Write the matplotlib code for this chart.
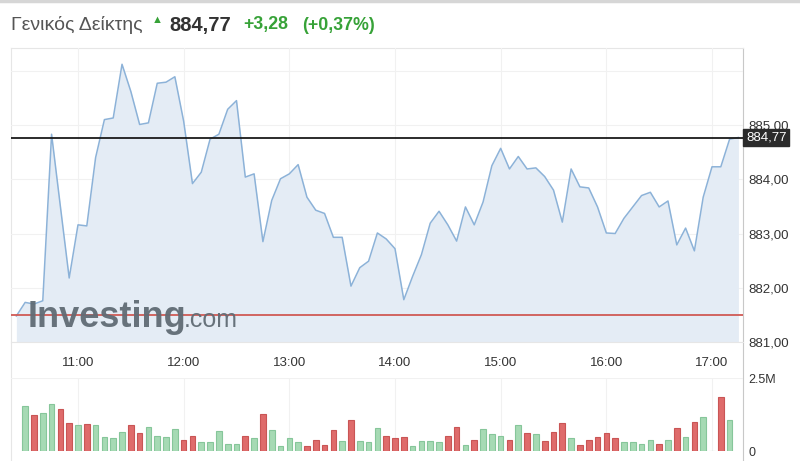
import numpy as np
import matplotlib
matplotlib.use('Agg')
import matplotlib.pyplot as plt
import matplotlib.transforms as mtransforms
from matplotlib.lines import Line2D

plt.rcParams['font.family'] = ['Liberation Sans', 'DejaVu Sans']

# --- data ---
index_name = 'Γενικός Δείκτης'
last_price = 884.77
change = 3.28
change_pct = 0.37
prev_close = 881.49

# 5-minute closes, 10:25 .. 17:15
price_start = '10:25'
price = [881.48, 881.73, 881.70, 881.76, 884.83, 883.50, 882.18, 883.16, 883.14, 884.40,
         885.10, 885.13, 886.12, 885.62, 885.01, 885.04, 885.77, 885.79, 885.89, 885.07,
         883.92, 884.13, 884.74, 884.83, 885.29, 885.45, 884.04, 884.10, 882.85, 883.61,
         884.01, 884.10, 884.27, 883.67, 883.43, 883.37, 882.93, 882.93, 882.03, 882.37,
         882.49, 883.01, 882.90, 882.72, 881.78, 882.21, 882.61, 883.19, 883.41, 883.16,
         882.86, 883.49, 883.16, 883.58, 884.25, 884.57, 884.19, 884.42, 884.19, 884.21,
         884.05, 883.80, 883.21, 884.19, 883.86, 883.84, 883.49, 883.01, 883.00, 883.28,
         883.49, 883.70, 883.76, 883.49, 883.60, 882.79, 883.10, 882.68, 883.67, 884.23,
         884.23, 884.74, 884.77]

# 5-minute volumes (millions), 10:30 .. 17:10, 1 = up bar, 0 = down bar
volume_start = '10:30'
volume = [1.53, 1.23, 1.31, 1.62, 1.45, 0.96, 0.88, 0.91, 0.88, 0.48,
          0.44, 0.65, 0.88, 0.61, 0.83, 0.52, 0.48, 0.74, 0.39, 0.52,
          0.30, 0.30, 0.69, 0.25, 0.25, 0.52, 0.44, 1.27, 0.71, 0.17,
          0.43, 0.30, 0.17, 0.39, 0.21, 0.71, 0.35, 1.07, 0.35, 0.30,
          0.79, 0.52, 0.44, 0.48, 0.17, 0.35, 0.35, 0.30, 0.52, 0.83,
          0.21, 0.39, 0.74, 0.57, 0.52, 0.39, 0.88, 0.61, 0.57, 0.35,
          0.66, 0.96, 0.44, 0.21, 0.39, 0.48, 0.61, 0.44, 0.30, 0.30,
          0.25, 0.39, 0.25, 0.39, 0.79, 0.48, 1.01, 1.18, 0.0, 1.84,
          1.05]
volume_up = [1, 0, 1, 1, 0, 0, 1, 0, 1, 1,
             1, 1, 0, 0, 1, 1, 1, 1, 0, 0,
             1, 1, 1, 1, 1, 0, 1, 0, 1, 1,
             1, 1, 0, 0, 0, 0, 1, 0, 1, 1,
             1, 0, 0, 0, 1, 1, 1, 1, 0, 0,
             1, 0, 1, 1, 1, 0, 1, 0, 1, 0,
             0, 0, 1, 0, 0, 0, 0, 0, 1, 1,
             1, 1, 0, 1, 0, 1, 0, 1, 1, 0,
             1]

hour_labels = ['11:00', '12:00', '13:00', '14:00', '15:00', '16:00', '17:00']
price_ticks = [881, 882, 883, 884, 885]
volume_ticks = [0, 2.5]
volume_tick_labels = ['0', '2.5M']


def to_min(s):
    h, m = s.split(':')
    return (int(h) - 10) * 60 + int(m)


def fmt(v):
    return f'{v:.2f}'.replace('.', ',')


price_x = to_min(price_start) + 5 * np.arange(len(price))
vol_x = to_min(volume_start) + 5 * np.arange(len(volume))
hour_x = [to_min(h) for h in hour_labels]

W, H = 800, 461
fig = plt.figure(figsize=(W / 100, H / 100), dpi=100)


def box(l, t, r, b):
    return [l / W, 1 - b / H, (r - l) / W, (b - t) / H]


xlim = (21.96, 437.6)
green = '#37a238'
txt = '#333333'

# frame around the whole chart
bg = fig.add_axes(box(11, 48, 743, 470), zorder=0)
bg.set_xticks([])
bg.set_yticks([])
bg.patch.set_visible(False)
for s in ['left', 'top']:
    bg.spines[s].set_color('#e6e6e6')
bg.spines['right'].set_color('#c8c8c8')
bg.spines['bottom'].set_visible(False)

# price pane
ax = fig.add_axes(box(11, 48, 743, 342), zorder=1)
ax.patch.set_visible(False)
ax.fill_between(price_x, price, 881.0, color='#e4ecf5', lw=0, zorder=1)
ax.plot(price_x, price, color='#8cb2d8', lw=1.1, zorder=3)
ax.axhline(last_price, color='#1a1a1a', lw=1.3, zorder=5)
ax.axhline(prev_close, color='#d05a55', lw=1.3, zorder=5)
ax.set_xlim(*xlim)
ax.set_ylim(881.0, 886.42)
for v in range(881, 887):
    ax.axhline(v, color='#f1f1f1', lw=0.8, zorder=0)
for h in hour_x:
    ax.axvline(h, color='#f1f1f1', lw=0.8, zorder=0)
ax.yaxis.tick_right()
ax.set_yticks(price_ticks)
ax.set_yticklabels([fmt(v) for v in price_ticks], fontsize=9.5, color=txt)
ax.set_xticks(hour_x)
ax.set_xticklabels(hour_labels, fontsize=9.5, color=txt)
ax.tick_params(length=0)
ax.tick_params(axis='y', pad=4)
ax.tick_params(axis='x', pad=11)
for s in ['left', 'top', 'right']:
    ax.spines[s].set_visible(False)
ax.spines['bottom'].set_color('#e6e6e6')

# last price tag
tr = mtransforms.blended_transform_factory(ax.transAxes, ax.transData)
ax.text(1.004, last_price, fmt(last_price), transform=tr, fontsize=9.5, color='white',
        va='center', ha='left', zorder=6, clip_on=False,
        bbox=dict(boxstyle='square,pad=0.2', fc='#2b2b2b', ec='#2b2b2b'))

# watermark
fig.text(28 / W, 1 - 327 / H, 'Investing', fontsize=26, weight='bold', color='#606c75',
         va='baseline', ha='left', zorder=2, alpha=0.95)
fig.text(184 / W, 1 - 327 / H, '.com', fontsize=18, color='#606c75',
         va='baseline', ha='left', zorder=2, alpha=0.95)

# volume pane
av = fig.add_axes(box(11, 378, 743, 451), zorder=1)
av.patch.set_visible(False)
vol = np.array(volume)
up = np.array(volume_up, dtype=bool)
av.bar(vol_x[up], vol[up], width=3.2, color='#a6dab4', edgecolor='#86c69a', lw=0.8)
av.bar(vol_x[~up], vol[~up], width=3.2, color='#df6b6b', edgecolor='#c95555', lw=0.8)
av.set_xlim(*xlim)
av.set_ylim(0, 2.5)
for h in hour_x:
    av.axvline(h, color='#f1f1f1', lw=0.8, zorder=0)
av.axhline(2.5, color='#f1f1f1', lw=0.8, zorder=0)
av.yaxis.tick_right()
av.set_yticks(volume_ticks)
av.set_yticklabels(volume_tick_labels, fontsize=9, color=txt)
av.set_xticks([])
av.tick_params(length=0, pad=4)
for s in ['left', 'top', 'right', 'bottom']:
    av.spines[s].set_visible(False)

# header
fig.add_artist(Line2D([0, 1], [1 - 1.5 / H] * 2, color='#d6d6d6', lw=2.5))
y_h = 1 - 25 / H
fig.text(11 / W, y_h, index_name, fontsize=14, color='#555555', va='center')
fig.text(157 / W, 1 - 20 / H, '▲', fontsize=8, color=green, ha='center', va='center')
fig.text(169 / W, y_h, fmt(last_price), fontsize=14.5, weight='bold', color=txt, va='center')
fig.text(243 / W, y_h, '+' + fmt(change), fontsize=12.8, weight='bold', color=green, va='center')
fig.text(302 / W, y_h, '(+' + fmt(change_pct) + '%)', fontsize=12.8, weight='bold',
         color=green, va='center')

fig.savefig('out.png', dpi=100)
